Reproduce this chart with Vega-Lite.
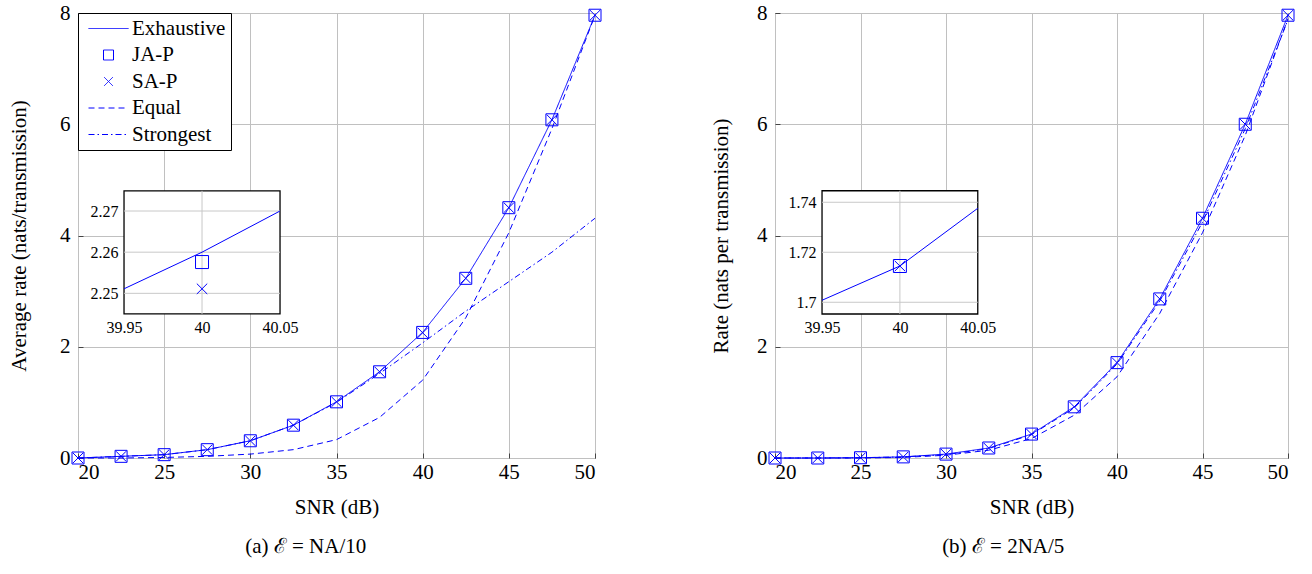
{
  "$schema": "https://vega.github.io/schema/vega-lite/v6.json",
  "padding": {"left": 8, "top": 1, "right": 5, "bottom": 5},
  "spacing": 106,
  "datasets": {
    "a_main": [
      {"snr": 20, "series": "Exhaustive", "rate": 0}, {"snr": 22.5, "series": "Exhaustive", "rate": 0.03}, {"snr": 25, "series": "Exhaustive", "rate": 0.06}, {"snr": 27.5, "series": "Exhaustive", "rate": 0.15}, {"snr": 30, "series": "Exhaustive", "rate": 0.31}, {"snr": 32.5, "series": "Exhaustive", "rate": 0.59}, {"snr": 35, "series": "Exhaustive", "rate": 1.01}, {"snr": 37.5, "series": "Exhaustive", "rate": 1.55}, {"snr": 40, "series": "Exhaustive", "rate": 2.26}, {"snr": 42.5, "series": "Exhaustive", "rate": 3.23}, {"snr": 45, "series": "Exhaustive", "rate": 4.5}, {"snr": 47.5, "series": "Exhaustive", "rate": 6.08}, {"snr": 50, "series": "Exhaustive", "rate": 7.96},
      {"snr": 20, "series": "JA-P", "rate": 0}, {"snr": 22.5, "series": "JA-P", "rate": 0.03}, {"snr": 25, "series": "JA-P", "rate": 0.06}, {"snr": 27.5, "series": "JA-P", "rate": 0.15}, {"snr": 30, "series": "JA-P", "rate": 0.31}, {"snr": 32.5, "series": "JA-P", "rate": 0.59}, {"snr": 35, "series": "JA-P", "rate": 1.01}, {"snr": 37.5, "series": "JA-P", "rate": 1.55}, {"snr": 40, "series": "JA-P", "rate": 2.2576}, {"snr": 42.5, "series": "JA-P", "rate": 3.23}, {"snr": 45, "series": "JA-P", "rate": 4.5}, {"snr": 47.5, "series": "JA-P", "rate": 6.08}, {"snr": 50, "series": "JA-P", "rate": 7.96},
      {"snr": 20, "series": "SA-P", "rate": 0}, {"snr": 22.5, "series": "SA-P", "rate": 0.03}, {"snr": 25, "series": "SA-P", "rate": 0.06}, {"snr": 27.5, "series": "SA-P", "rate": 0.15}, {"snr": 30, "series": "SA-P", "rate": 0.31}, {"snr": 32.5, "series": "SA-P", "rate": 0.59}, {"snr": 35, "series": "SA-P", "rate": 1.01}, {"snr": 37.5, "series": "SA-P", "rate": 1.55}, {"snr": 40, "series": "SA-P", "rate": 2.2511}, {"snr": 42.5, "series": "SA-P", "rate": 3.23}, {"snr": 45, "series": "SA-P", "rate": 4.5}, {"snr": 47.5, "series": "SA-P", "rate": 6.08}, {"snr": 50, "series": "SA-P", "rate": 7.96},
      {"snr": 20, "series": "Equal", "rate": 0}, {"snr": 22.5, "series": "Equal", "rate": 0}, {"snr": 25, "series": "Equal", "rate": 0.01}, {"snr": 27.5, "series": "Equal", "rate": 0.03}, {"snr": 30, "series": "Equal", "rate": 0.07}, {"snr": 32.5, "series": "Equal", "rate": 0.15}, {"snr": 35, "series": "Equal", "rate": 0.33}, {"snr": 37.5, "series": "Equal", "rate": 0.73}, {"snr": 40, "series": "Equal", "rate": 1.4}, {"snr": 42.5, "series": "Equal", "rate": 2.52}, {"snr": 45, "series": "Equal", "rate": 4.05}, {"snr": 47.5, "series": "Equal", "rate": 5.92}, {"snr": 50, "series": "Equal", "rate": 7.96},
      {"snr": 20, "series": "Strongest", "rate": 0}, {"snr": 22.5, "series": "Strongest", "rate": 0.03}, {"snr": 25, "series": "Strongest", "rate": 0.06}, {"snr": 27.5, "series": "Strongest", "rate": 0.15}, {"snr": 30, "series": "Strongest", "rate": 0.31}, {"snr": 32.5, "series": "Strongest", "rate": 0.59}, {"snr": 35, "series": "Strongest", "rate": 1.0}, {"snr": 37.5, "series": "Strongest", "rate": 1.52}, {"snr": 40, "series": "Strongest", "rate": 2.07}, {"snr": 42.5, "series": "Strongest", "rate": 2.64}, {"snr": 45, "series": "Strongest", "rate": 3.17}, {"snr": 47.5, "series": "Strongest", "rate": 3.7}, {"snr": 50, "series": "Strongest", "rate": 4.31}
    ],
    "b_main": [
      {"snr": 20, "series": "Exhaustive", "rate": 0}, {"snr": 22.5, "series": "Exhaustive", "rate": 0}, {"snr": 25, "series": "Exhaustive", "rate": 0.005}, {"snr": 27.5, "series": "Exhaustive", "rate": 0.02}, {"snr": 30, "series": "Exhaustive", "rate": 0.07}, {"snr": 32.5, "series": "Exhaustive", "rate": 0.18}, {"snr": 35, "series": "Exhaustive", "rate": 0.43}, {"snr": 37.5, "series": "Exhaustive", "rate": 0.92}, {"snr": 40, "series": "Exhaustive", "rate": 1.7145}, {"snr": 42.5, "series": "Exhaustive", "rate": 2.86}, {"snr": 45, "series": "Exhaustive", "rate": 4.31}, {"snr": 47.5, "series": "Exhaustive", "rate": 6.0}, {"snr": 50, "series": "Exhaustive", "rate": 7.96},
      {"snr": 20, "series": "JA-P", "rate": 0}, {"snr": 22.5, "series": "JA-P", "rate": 0}, {"snr": 25, "series": "JA-P", "rate": 0.005}, {"snr": 27.5, "series": "JA-P", "rate": 0.02}, {"snr": 30, "series": "JA-P", "rate": 0.07}, {"snr": 32.5, "series": "JA-P", "rate": 0.18}, {"snr": 35, "series": "JA-P", "rate": 0.43}, {"snr": 37.5, "series": "JA-P", "rate": 0.92}, {"snr": 40, "series": "JA-P", "rate": 1.7145}, {"snr": 42.5, "series": "JA-P", "rate": 2.86}, {"snr": 45, "series": "JA-P", "rate": 4.31}, {"snr": 47.5, "series": "JA-P", "rate": 6.0}, {"snr": 50, "series": "JA-P", "rate": 7.96},
      {"snr": 20, "series": "SA-P", "rate": 0}, {"snr": 22.5, "series": "SA-P", "rate": 0}, {"snr": 25, "series": "SA-P", "rate": 0.005}, {"snr": 27.5, "series": "SA-P", "rate": 0.02}, {"snr": 30, "series": "SA-P", "rate": 0.07}, {"snr": 32.5, "series": "SA-P", "rate": 0.18}, {"snr": 35, "series": "SA-P", "rate": 0.43}, {"snr": 37.5, "series": "SA-P", "rate": 0.92}, {"snr": 40, "series": "SA-P", "rate": 1.7145}, {"snr": 42.5, "series": "SA-P", "rate": 2.86}, {"snr": 45, "series": "SA-P", "rate": 4.31}, {"snr": 47.5, "series": "SA-P", "rate": 6.0}, {"snr": 50, "series": "SA-P", "rate": 7.96},
      {"snr": 20, "series": "Equal", "rate": 0}, {"snr": 22.5, "series": "Equal", "rate": 0}, {"snr": 25, "series": "Equal", "rate": 0}, {"snr": 27.5, "series": "Equal", "rate": 0.01}, {"snr": 30, "series": "Equal", "rate": 0.05}, {"snr": 32.5, "series": "Equal", "rate": 0.14}, {"snr": 35, "series": "Equal", "rate": 0.35}, {"snr": 37.5, "series": "Equal", "rate": 0.77}, {"snr": 40, "series": "Equal", "rate": 1.46}, {"snr": 42.5, "series": "Equal", "rate": 2.6}, {"snr": 45, "series": "Equal", "rate": 4.05}, {"snr": 47.5, "series": "Equal", "rate": 5.8}, {"snr": 50, "series": "Equal", "rate": 7.9},
      {"snr": 20, "series": "Strongest", "rate": 0}, {"snr": 22.5, "series": "Strongest", "rate": 0}, {"snr": 25, "series": "Strongest", "rate": 0.005}, {"snr": 27.5, "series": "Strongest", "rate": 0.02}, {"snr": 30, "series": "Strongest", "rate": 0.06}, {"snr": 32.5, "series": "Strongest", "rate": 0.17}, {"snr": 35, "series": "Strongest", "rate": 0.42}, {"snr": 37.5, "series": "Strongest", "rate": 0.9}, {"snr": 40, "series": "Strongest", "rate": 1.69}, {"snr": 42.5, "series": "Strongest", "rate": 2.82}, {"snr": 45, "series": "Strongest", "rate": 4.24}, {"snr": 47.5, "series": "Strongest", "rate": 5.92}, {"snr": 50, "series": "Strongest", "rate": 7.88}
    ],
    "a_inset": [
      {"snr": 39.95, "series": "Exhaustive", "rate": 2.2511}, {"snr": 40, "series": "Exhaustive", "rate": 2.26}, {"snr": 40.05, "series": "Exhaustive", "rate": 2.27},
      {"snr": 40, "series": "JA-P", "rate": 2.2576}, {"snr": 40, "series": "SA-P", "rate": 2.2511}
    ],
    "b_inset": [
      {"snr": 39.95, "series": "Exhaustive", "rate": 1.7008}, {"snr": 40, "series": "Exhaustive", "rate": 1.7145}, {"snr": 40.05, "series": "Exhaustive", "rate": 1.7376},
      {"snr": 40, "series": "JA-P", "rate": 1.7145}, {"snr": 40, "series": "SA-P", "rate": 1.7145}
    ]
  },
  "hconcat": [
    {
      "width": 517, "height": 445,
      "title": {"text": "(a) ℰ = NA/10", "orient": "bottom", "offset": 19, "frame": "bounds", "anchor": "middle"},
      "resolve": {"scale": {"x": "independent", "y": "independent"}},
      "layer": [
        {
          "data": {"name": "a_main"},
          "encoding": {
            "x": {"field": "snr", "type": "quantitative", "title": "SNR (dB)", "scale": {"domain": [20, 50], "nice": false, "zero": false}, "axis": {"values": [20, 25, 30, 35, 40, 45, 50], "orient": "bottom", "ticks": true, "tickSize": -5, "labelPadding": 8, "titlePadding": 14}},
            "y": {"field": "rate", "type": "quantitative", "title": "Average rate (nats/transmission)", "scale": {"domain": [0, 8], "nice": false, "zero": false}, "axis": {"values": [0, 2, 4, 6, 8], "orient": "left", "ticks": true, "tickSize": -5, "labelPadding": 13, "titlePadding": 30}}
          },
          "layer": [
            {
              "transform": [{"filter": "datum.series == 'Exhaustive' || datum.series == 'Equal' || datum.series == 'Strongest'"}],
              "mark": {"type": "line", "color": "#0000ff", "strokeWidth": 1},
              "encoding": {"strokeDash": {"field": "series", "type": "nominal", "title": null, "scale": {"domain": ["Exhaustive", "JA-P", "SA-P", "Equal", "Strongest"], "range": [[1, 0], [1, 0], [1, 0], [6, 4], [6, 3, 1.5, 3]]}, "legend": {"encode": {"symbols": {"update": {"stroke": {"value": "#0000ff"}, "fill": {"value": "transparent"}}}}}}}
            },
            {
              "transform": [{"filter": "datum.series == 'JA-P' || datum.series == 'SA-P'"}],
              "mark": {"type": "point", "color": "#0000ff", "filled": false, "size": 144, "strokeWidth": 1, "opacity": 1},
              "encoding": {"shape": {"field": "series", "type": "nominal", "title": null, "scale": {"domain": ["Exhaustive", "JA-P", "SA-P", "Equal", "Strongest"], "range": ["M-4,0H4", "M-1,-1H1V1H-1Z", "M-0.85,-0.85L0.85,0.85M-0.85,0.85L0.85,-0.85", "M-4,0H4", "M-4,0H4"]}, "legend": {"encode": {"symbols": {"update": {"stroke": {"value": "#0000ff"}, "fill": {"value": "transparent"}}}}}}}
            },
            {
              "data": {"values": [{}]},
              "mark": {"type": "rect", "fill": "transparent", "stroke": "#222222", "strokeWidth": 1},
              "encoding": {"x": {"datum": 39.18}, "x2": {"datum": 40.82}, "y": {"datum": 2.05}, "y2": {"datum": 2.49}}
            },
            {
              "data": {"values": [{}]},
              "mark": {"type": "rule", "color": "black", "strokeWidth": 2.5},
              "encoding": {"x": {"datum": 31.76}, "y": {"datum": 3.23}, "x2": {"datum": 39.18}, "y2": {"datum": 2.49}}
            }
          ]
        },
        {
          "layer": [
            {
              "data": {"values": [{}]},
              "mark": {"type": "rect", "fill": "white", "stroke": "black", "strokeWidth": 1.3},
              "encoding": {
                "x": {"datum": 39.95, "type": "quantitative", "scale": {"domain": [39.9205, 40.2519], "nice": false, "zero": false}, "axis": {"values": [39.95, 40, 40.05], "orient": "bottom", "offset": -144, "format": "~g", "title": null, "grid": false, "ticks": false, "domain": false, "labelFontSize": 16, "labelPadding": 5, "zindex": 1}},
                "x2": {"datum": 40.05},
                "y": {"datum": 2.245, "type": "quantitative", "scale": {"domain": [2.21, 2.3181], "nice": false, "zero": false}, "axis": {"values": [2.25, 2.26, 2.27], "orient": "left", "offset": -46, "format": "~g", "title": null, "grid": false, "ticks": false, "domain": false, "labelFontSize": 16, "labelPadding": 6, "zindex": 1}},
                "y2": {"datum": 2.2749}
              }
            },
            {
              "data": {"values": [{"v": 2.25}, {"v": 2.26}, {"v": 2.27}]},
              "mark": {"type": "rule", "color": "#c8c8c8", "strokeWidth": 1},
              "encoding": {"x": {"datum": 39.95}, "x2": {"datum": 40.05}, "y": {"field": "v", "type": "quantitative"}}
            },
            {
              "data": {"values": [{}]},
              "mark": {"type": "rule", "color": "#c8c8c8", "strokeWidth": 1},
              "encoding": {"x": {"datum": 40}, "y": {"datum": 2.245}, "y2": {"datum": 2.2749}}
            },
            {
              "data": {"name": "a_inset"},
              "transform": [{"filter": "datum.series == 'Exhaustive'"}],
              "mark": {"type": "line", "color": "#0000ff", "strokeWidth": 1},
              "encoding": {"x": {"field": "snr", "type": "quantitative"}, "y": {"field": "rate", "type": "quantitative"}}
            },
            {
              "data": {"name": "a_inset"},
              "transform": [{"filter": "datum.series == 'JA-P'"}],
              "mark": {"type": "point", "shape": "M-1,-1H1V1H-1Z", "color": "#0000ff", "filled": false, "size": 169, "strokeWidth": 1, "opacity": 1},
              "encoding": {"x": {"field": "snr", "type": "quantitative"}, "y": {"field": "rate", "type": "quantitative"}}
            },
            {
              "data": {"name": "a_inset"},
              "transform": [{"filter": "datum.series == 'SA-P'"}],
              "mark": {"type": "point", "shape": "M-0.8,-0.8L0.8,0.8M-0.8,0.8L0.8,-0.8", "color": "#0000ff", "filled": false, "size": 169, "strokeWidth": 1, "opacity": 1},
              "encoding": {"x": {"field": "snr", "type": "quantitative"}, "y": {"field": "rate", "type": "quantitative"}}
            }
          ]
        }
      ]
    },
    {
      "width": 513, "height": 445,
      "title": {"text": "(b) ℰ = 2NA/5", "orient": "bottom", "offset": 19, "frame": "bounds", "anchor": "middle"},
      "resolve": {"scale": {"x": "independent", "y": "independent"}},
      "layer": [
        {
          "data": {"name": "b_main"},
          "encoding": {
            "x": {"field": "snr", "type": "quantitative", "title": "SNR (dB)", "scale": {"domain": [20, 50], "nice": false, "zero": false}, "axis": {"values": [20, 25, 30, 35, 40, 45, 50], "orient": "bottom", "ticks": true, "tickSize": -5, "labelPadding": 8, "titlePadding": 14}},
            "y": {"field": "rate", "type": "quantitative", "title": "Rate (nats per transmission)", "scale": {"domain": [0, 8], "nice": false, "zero": false}, "axis": {"values": [0, 2, 4, 6, 8], "orient": "left", "ticks": true, "tickSize": -5, "labelPadding": 13, "titlePadding": 25}}
          },
          "layer": [
            {
              "transform": [{"filter": "datum.series == 'Exhaustive' || datum.series == 'Equal' || datum.series == 'Strongest'"}],
              "mark": {"type": "line", "color": "#0000ff", "strokeWidth": 1},
              "encoding": {"strokeDash": {"field": "series", "type": "nominal", "title": null, "scale": {"domain": ["Exhaustive", "JA-P", "SA-P", "Equal", "Strongest"], "range": [[1, 0], [1, 0], [1, 0], [6, 4], [6, 3, 1.5, 3]]}, "legend": {"encode": {"symbols": {"update": {"stroke": {"value": "#0000ff"}, "fill": {"value": "transparent"}}}}}}}
            },
            {
              "transform": [{"filter": "datum.series == 'JA-P' || datum.series == 'SA-P'"}],
              "mark": {"type": "point", "color": "#0000ff", "filled": false, "size": 144, "strokeWidth": 1, "opacity": 1},
              "encoding": {"shape": {"field": "series", "type": "nominal", "title": null, "scale": {"domain": ["Exhaustive", "JA-P", "SA-P", "Equal", "Strongest"], "range": ["M-4,0H4", "M-1,-1H1V1H-1Z", "M-0.85,-0.85L0.85,0.85M-0.85,0.85L0.85,-0.85", "M-4,0H4", "M-4,0H4"]}, "legend": {"encode": {"symbols": {"update": {"stroke": {"value": "#0000ff"}, "fill": {"value": "transparent"}}}}}}}
            },
            {
              "data": {"values": [{}]},
              "mark": {"type": "rect", "fill": "transparent", "stroke": "#222222", "strokeWidth": 1},
              "encoding": {"x": {"datum": 39.18}, "x2": {"datum": 40.82}, "y": {"datum": 1.5}, "y2": {"datum": 1.94}}
            },
            {
              "data": {"values": [{}]},
              "mark": {"type": "rule", "color": "black", "strokeWidth": 2.5},
              "encoding": {"x": {"datum": 31.85}, "y": {"datum": 3.17}, "x2": {"datum": 39.18}, "y2": {"datum": 1.94}}
            }
          ]
        },
        {
          "layer": [
            {
              "data": {"values": [{}]},
              "mark": {"type": "rect", "fill": "white", "stroke": "black", "strokeWidth": 1.3},
              "encoding": {
                "x": {"datum": 39.95, "type": "quantitative", "scale": {"domain": [39.9198, 40.2492], "nice": false, "zero": false}, "axis": {"values": [39.95, 40, 40.05], "orient": "bottom", "offset": -144, "format": "~g", "title": null, "grid": false, "ticks": false, "domain": false, "labelFontSize": 16, "labelPadding": 5, "zindex": 1}},
                "x2": {"datum": 40.05},
                "y": {"datum": 1.6953, "type": "quantitative", "scale": {"domain": [1.6377, 1.8157], "nice": false, "zero": false}, "axis": {"values": [1.7, 1.72, 1.74], "orient": "left", "offset": -47, "format": "~g", "title": null, "grid": false, "ticks": false, "domain": false, "labelFontSize": 16, "labelPadding": 6, "zindex": 1}},
                "y2": {"datum": 1.7446}
              }
            },
            {
              "data": {"values": [{"v": 1.7}, {"v": 1.72}, {"v": 1.74}]},
              "mark": {"type": "rule", "color": "#c8c8c8", "strokeWidth": 1},
              "encoding": {"x": {"datum": 39.95}, "x2": {"datum": 40.05}, "y": {"field": "v", "type": "quantitative"}}
            },
            {
              "data": {"values": [{}]},
              "mark": {"type": "rule", "color": "#c8c8c8", "strokeWidth": 1},
              "encoding": {"x": {"datum": 40}, "y": {"datum": 1.6953}, "y2": {"datum": 1.7446}}
            },
            {
              "data": {"name": "b_inset"},
              "transform": [{"filter": "datum.series == 'Exhaustive'"}],
              "mark": {"type": "line", "color": "#0000ff", "strokeWidth": 1},
              "encoding": {"x": {"field": "snr", "type": "quantitative"}, "y": {"field": "rate", "type": "quantitative"}}
            },
            {
              "data": {"name": "b_inset"},
              "transform": [{"filter": "datum.series == 'JA-P'"}],
              "mark": {"type": "point", "shape": "M-1,-1H1V1H-1Z", "color": "#0000ff", "filled": false, "size": 169, "strokeWidth": 1, "opacity": 1},
              "encoding": {"x": {"field": "snr", "type": "quantitative"}, "y": {"field": "rate", "type": "quantitative"}}
            },
            {
              "data": {"name": "b_inset"},
              "transform": [{"filter": "datum.series == 'SA-P'"}],
              "mark": {"type": "point", "shape": "M-0.8,-0.8L0.8,0.8M-0.8,0.8L0.8,-0.8", "color": "#0000ff", "filled": false, "size": 169, "strokeWidth": 1, "opacity": 1},
              "encoding": {"x": {"field": "snr", "type": "quantitative"}, "y": {"field": "rate", "type": "quantitative"}}
            }
          ]
        }
      ]
    }
  ],
  "config": {
    "font": "Liberation Serif",
    "style": {"guide-label": {"font": "Liberation Serif"}, "guide-title": {"font": "Liberation Serif"}},
    "view": {"stroke": "black", "strokeWidth": 1},
    "axis": {"labelFont": "Liberation Serif", "titleFont": "Liberation Serif", "labelFontSize": 21, "titleFontSize": 21, "titleFontWeight": "normal", "labelColor": "black", "titleColor": "black", "gridColor": "#c0c0c0", "gridWidth": 1, "domain": false, "ticks": false, "tickColor": "#444444", "labelPadding": 8},
    "legend": {"orient": "top-left", "offset": 0, "padding": 5, "strokeColor": "black", "fillColor": "white", "labelFont": "Liberation Serif", "labelFontSize": 21, "labelColor": "black", "symbolSize": 100, "symbolStrokeWidth": 1, "symbolOffset": 15, "labelOffset": 13, "rowPadding": 4.5, "symbolStrokeColor": "#0000ff", "symbolFillColor": "transparent", "cornerRadius": 0},
    "title": {"font": "Liberation Serif", "fontSize": 21, "fontWeight": "normal", "color": "black"}
  }
}
